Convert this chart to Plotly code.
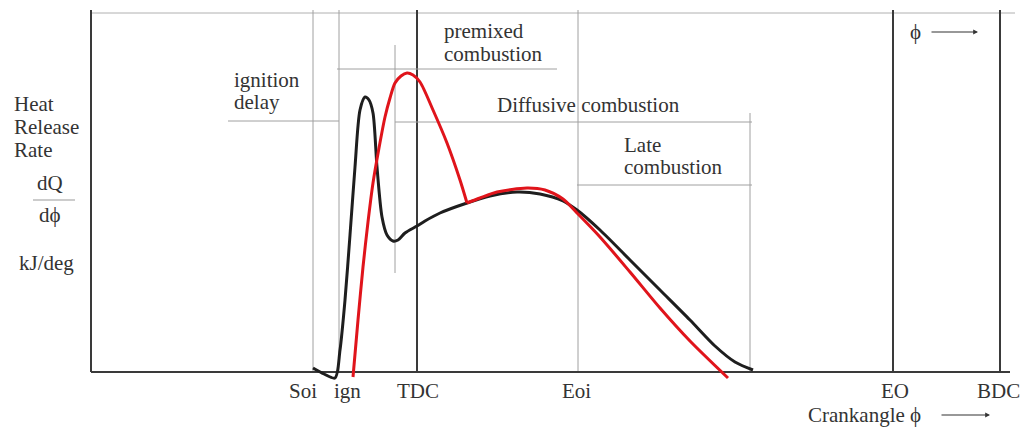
import plotly.graph_objects as go

# ---- data (x = crank-angle position on the drawing scale, y = heat release rate, arbitrary units) ----
black_x = [313, 324, 335, 340, 345, 350, 355, 360, 365, 369, 373, 377, 382, 387, 393, 398, 405, 417, 425,
           440, 467, 490, 517, 540, 563, 577, 600, 630, 660, 690, 715, 735, 753]
black_y = [4, -2, -6, 22, 72, 137, 205, 262, 275, 272, 259, 205, 155, 137, 131, 132, 139, 146, 151,
           159, 169, 176, 180, 178, 171, 162, 142, 112, 82, 52, 26, 10, 2]

red_premix_x = [353, 358, 363, 368, 373, 379, 385, 390, 395, 401, 407, 413, 420, 433, 447, 460, 467]
red_premix_y = [-5, 52, 105, 150, 189, 224, 255, 274, 289, 296, 299, 297, 290, 262, 229, 192, 169]

red_diff_x = [467, 480, 497, 527, 545, 563, 577, 600, 630, 660, 690, 728]
red_diff_y = [169, 174, 180, 184, 182, 173, 159, 135, 100, 64, 31, -6]

event_labels = ["Soi", "ign", "TDC", "Eoi", "EO", "BDC"]
event_x = [313, 339, 417, 578, 893, 1000]
event_label_x = [303, 347, 418, 576, 895, 998]

X0, X1 = 91, 1010      # axis extent
Y_TOP = 362
FONT = "Liberation Serif"
TXT = "#333333"
GRAY = "#a0a0a0"
DARK = "#3a3a3a"

fig = go.Figure()
fig.add_trace(go.Scatter(x=black_x, y=black_y, mode="lines",
                         line=dict(color="#1e1e1e", width=3, shape="spline", smoothing=0.8),
                         hoverinfo="skip"))
fig.add_trace(go.Scatter(x=red_premix_x, y=red_premix_y, mode="lines",
                         line=dict(color="#e0141b", width=3, shape="spline", smoothing=0.8),
                         hoverinfo="skip"))
fig.add_trace(go.Scatter(x=red_diff_x, y=red_diff_y, mode="lines",
                         line=dict(color="#e0141b", width=3, shape="spline", smoothing=0.8),
                         hoverinfo="skip"))

shapes = []
def seg(x0, y0, x1, y1, color=GRAY, width=1):
    shapes.append(dict(type="line", xref="x", yref="y", x0=x0, y0=y0, x1=x1, y1=y1,
                       line=dict(color=color, width=width), layer="below"))

# frame
seg(X0, 359, 1015, 359, "#b0b0b0", 1)
# vertical event lines
dark_events = {"TDC", "EO", "BDC"}
for lab, ex in zip(event_labels, event_x):
    if lab in dark_events:
        seg(ex, Y_TOP, ex, 0, DARK, 2)
    else:
        seg(ex, Y_TOP, ex, 0, GRAY, 1)
seg(395, 327, 395, 99)
seg(750, 259, 750, 0)
# phase bracket lines
seg(228, 251, 339, 251)
seg(337, 303, 557, 303)
seg(395, 250, 752, 250)
seg(577, 187, 752, 187)
# axes
seg(X0, Y_TOP, X0, 0, DARK, 2)
seg(X0, 0, X1, 0, DARK, 2)
# fraction bar
seg(33, 172, 75, 172, "#999999", 1)

fig.update_layout(shapes=shapes)

ann = []
def txt(x, y, s, anchor="left", size=21):
    ann.append(dict(x=x, y=y, xref="x", yref="y", text=s, showarrow=False,
                    xanchor=anchor, yanchor="middle",
                    font=dict(family=FONT, size=size, color=TXT)))

txt(12, 268, "Heat")
txt(12, 245, "Release")
txt(12, 222, "Rate")
txt(50, 189, "dQ", "center")
txt(50, 157, "dϕ", "center")
txt(46, 109, "kJ/deg", "center")
txt(232, 292, "ignition")
txt(232, 270, "delay")
txt(442, 341, "premixed")
txt(442, 318, "combustion")
txt(495, 267, "Diffusive combustion")
txt(622, 227, "Late")
txt(622, 205, "combustion")
for lab, lx in zip(event_labels, event_label_x):
    txt(lx, -19, lab, "center")
txt(806, -43, "Crankangle ϕ")
txt(915, 340, "ϕ", "center")

for (xa, xb, yy) in [(940, 990, -43), (930, 978, 340)]:
    ann.append(dict(x=xb, y=yy, ax=xa, ay=yy, xref="x", yref="y", axref="x", ayref="y",
                    text="", showarrow=True, arrowhead=2, arrowsize=0.8, arrowwidth=1.2,
                    arrowcolor="#333333"))

fig.update_layout(
    annotations=ann,
    width=1024, height=427,
    margin=dict(l=0, r=0, t=0, b=0),
    paper_bgcolor="white", plot_bgcolor="white",
    showlegend=False,
    xaxis=dict(range=[0, 1024], visible=False, fixedrange=True),
    yaxis=dict(range=[-55, 372], visible=False, fixedrange=True),
)

fig.write_html("out.html", config={"displayModeBar": False})
